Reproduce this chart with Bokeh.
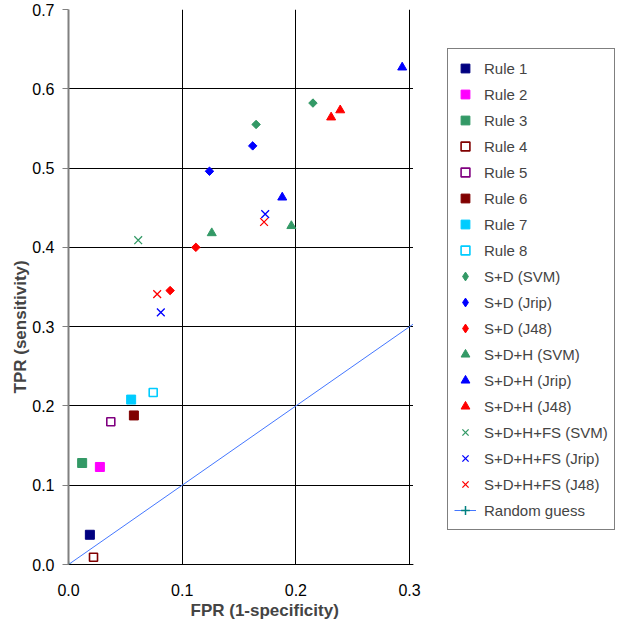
import math
from bokeh.plotting import figure
from bokeh.models import (Range1d, FixedTicker, NumeralTickFormatter, Legend,
                          LegendItem, Title, BoxAnnotation)
from bokeh.embed import file_html
from bokeh.resources import INLINE

# ---- data ----
rule_names = ["Rule 1", "Rule 2", "Rule 3", "Rule 4", "Rule 5", "Rule 6", "Rule 7", "Rule 8"]
rule_fpr = [0.0188, 0.0276, 0.0120, 0.0220, 0.0372, 0.0575, 0.0551, 0.0745]
rule_tpr = [0.0375, 0.1230, 0.1280, 0.0092, 0.1800, 0.1880, 0.2080, 0.2170]
rule_colors = ["#000080", "#FF00FF", "#339966", "#800000", "#800080", "#800000", "#00CCFF", "#00CCFF"]
rule_open = [False, False, False, True, True, False, False, True]

sd_svm_fpr = [0.165, 0.215]
sd_svm_tpr = [0.555, 0.582]
sd_jrip_fpr = [0.124, 0.162]
sd_jrip_tpr = [0.496, 0.528]
sd_j48_fpr = [0.0894, 0.112]
sd_j48_tpr = [0.3455, 0.400]

sdh_svm_fpr = [0.126, 0.196]
sdh_svm_tpr = [0.418, 0.427]
sdh_jrip_fpr = [0.188, 0.2935]
sdh_jrip_tpr = [0.463, 0.627]
sdh_j48_fpr = [0.231, 0.239]
sdh_j48_tpr = [0.564, 0.573]

sdhfs_svm_fpr = [0.0613]
sdhfs_svm_tpr = [0.409]
sdhfs_jrip_fpr = [0.0812, 0.173]
sdhfs_jrip_tpr = [0.318, 0.442]
sdhfs_j48_fpr = [0.078, 0.172]
sdhfs_j48_tpr = [0.341, 0.432]

random_fpr = [0.0, 1.0]
random_tpr = [0.0, 1.0]

x_ticks = [0.0, 0.1, 0.2, 0.3]
y_ticks = [0.0, 0.1, 0.2, 0.3, 0.4, 0.5, 0.6, 0.7]

FONT = "Liberation Sans"
SVM_C, JRIP_C, J48_C = "#339966", "#0000FF", "#FF0000"

X_AXIS_END = 0.303          # visible plotting area ends here
FRAME_W = 547               # frame spans the legend area too
X_VIEW_END = X_AXIS_END * FRAME_W / 344.5

p = figure(width=615, height=621, output_backend="svg", toolbar_location=None,
           x_range=Range1d(0, X_VIEW_END), y_range=Range1d(0, 0.7),
           min_border_left=68, min_border_right=0, min_border_top=9,
           min_border_bottom=57)
p.outline_line_color = None
p.background_fill_color = "white"
p.border_fill_color = "white"

# axes
for ax in (p.xaxis[0], p.yaxis[0]):
    ax.major_label_text_font = FONT
    ax.major_label_text_font_size = "16px"
    ax.major_label_text_color = "black"
    ax.minor_tick_line_color = None
    ax.formatter = NumeralTickFormatter(format="0.0")
p.xaxis.ticker = FixedTicker(ticks=x_ticks)
p.yaxis.ticker = FixedTicker(ticks=y_ticks)
p.xaxis.bounds = (0, X_AXIS_END)
p.xaxis.axis_line_color = "black"
p.xaxis.axis_line_width = 1.2
p.xaxis.major_tick_line_color = None
p.xaxis.major_label_standoff = 13
p.yaxis.axis_line_color = "#808080"
p.yaxis.axis_line_width = 2
p.yaxis.major_tick_line_color = "#808080"
p.yaxis.major_tick_out = 6
p.yaxis.major_tick_in = 0
p.yaxis.major_label_standoff = 8

# grid
p.xgrid.ticker = FixedTicker(ticks=[0.1, 0.2, 0.3])
p.ygrid.ticker = FixedTicker(ticks=[0.1, 0.2, 0.3, 0.4, 0.5, 0.6])
p.xgrid.grid_line_color = "black"
p.ygrid.grid_line_color = "black"
p.xgrid.grid_line_alpha = 1
p.ygrid.grid_line_alpha = 1

# axis titles
ytitle = Title(text="TPR (sensitivity)", align="left", offset=171,
               text_font=FONT, text_font_size="17px", text_font_style="bold",
               standoff=0)
p.add_layout(ytitle, "left")
xtitle = Title(text="FPR (1-specificity)", align="left", offset=122,
               text_font=FONT, text_font_size="17px", text_font_style="bold",
               standoff=0)
p.add_layout(xtitle, "below")

items = []

# random guess line
rl = p.line(random_fpr, random_tpr, line_color="#4477FF", line_width=1)
rm = p.scatter(random_fpr[:1], random_tpr[:1], marker="cross", size=6,
               line_color="#008080", line_width=1.5)

# rules
for name, fx, ty, c, op in zip(rule_names, rule_fpr, rule_tpr, rule_colors, rule_open):
    if op:
        r = p.scatter([fx], [ty], marker="square", size=8, fill_color="white",
                      line_color=c, line_width=1.6)
    else:
        r = p.scatter([fx], [ty], marker="square", size=9, fill_color=c,
                      line_color=c, line_width=1)
    items.append(LegendItem(label=name, renderers=[r]))

def diam(xs, ys, c, label):
    # a diamond marker (hidden under the rotated square) supplies the legend glyph,
    # because legend glyphs are never rotated
    lg = p.scatter(xs, ys, marker="diamond", size=7, fill_color=c,
                   line_color=c, line_width=1)
    p.scatter(xs, ys, marker="square", angle=math.pi / 4, size=6,
              fill_color=c, line_color=c, line_width=1)
    items.append(LegendItem(label=label, renderers=[lg]))

def tri(xs, ys, c, label):
    r = p.scatter(xs, ys, marker="triangle", size=9, fill_color=c,
                  line_color=c, line_width=1)
    items.append(LegendItem(label=label, renderers=[r]))

def cross(xs, ys, c, label):
    r = p.scatter(xs, ys, marker="x", size=11, line_color=c, line_width=1.3)
    items.append(LegendItem(label=label, renderers=[r]))

diam(sd_svm_fpr, sd_svm_tpr, SVM_C, "S+D (SVM)")
diam(sd_jrip_fpr, sd_jrip_tpr, JRIP_C, "S+D (Jrip)")
diam(sd_j48_fpr, sd_j48_tpr, J48_C, "S+D (J48)")
tri(sdh_svm_fpr, sdh_svm_tpr, SVM_C, "S+D+H (SVM)")
tri(sdh_jrip_fpr, sdh_jrip_tpr, JRIP_C, "S+D+H (Jrip)")
tri(sdh_j48_fpr, sdh_j48_tpr, J48_C, "S+D+H (J48)")
cross(sdhfs_svm_fpr, sdhfs_svm_tpr, SVM_C, "S+D+H+FS (SVM)")
cross(sdhfs_jrip_fpr, sdhfs_jrip_tpr, JRIP_C, "S+D+H+FS (Jrip)")
cross(sdhfs_j48_fpr, sdhfs_j48_tpr, J48_C, "S+D+H+FS (J48)")
items.append(LegendItem(label="Random guess", renderers=[rl, rm]))

# blank out the frame to the right of the plotting area (legend sits there)
mask = BoxAnnotation(left=X_AXIS_END, fill_color="white", fill_alpha=1,
                     line_alpha=0)
p.add_layout(mask)

legend = Legend(items=items, location=(379, 34), orientation="vertical",
                label_text_font=FONT, label_text_font_size="15px",
                label_height=26, glyph_height=26, glyph_width=22, spacing=0,
                padding=6, margin=0, label_standoff=8,
                border_line_color="black", border_line_width=1,
                background_fill_color="white", background_fill_alpha=1)
p.add_layout(legend, "center")

open("out.html", "w").write(file_html(p, INLINE))
